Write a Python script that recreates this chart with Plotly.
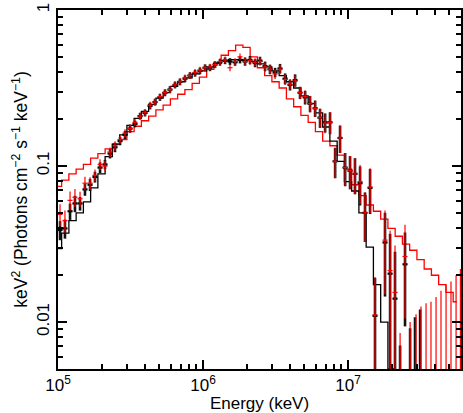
import plotly.graph_objects as go

# ---------------- data (log10 energy in keV, log10 of keV^2 flux) ----------------
data_logE = [5.014, 5.048, 5.083, 5.117, 5.152, 5.186, 5.221, 5.255, 5.290, 5.324,
             5.359, 5.393, 5.428, 5.462, 5.497, 5.531, 5.566, 5.600, 5.635, 5.669,
             5.703, 5.738, 5.772, 5.807, 5.841, 5.876, 5.910, 5.945, 5.979, 6.014,
             6.048, 6.083, 6.117, 6.152, 6.186, 6.221, 6.255, 6.290, 6.324, 6.359,
             6.393, 6.428, 6.462, 6.497, 6.531, 6.566, 6.600, 6.635, 6.669, 6.704,
             6.738, 6.773, 6.807, 6.842, 6.876, 6.911, 6.945, 6.980, 7.014, 7.048,
             7.083, 7.117, 7.152, 7.186, 7.255, 7.290, 7.324, 7.393]

black_logF = [-1.41, -1.40, -1.29, -1.24, -1.24, -1.15, -1.12, -1.07, -1.01, -0.99,
              -0.92, -0.88, -0.84, -0.80, -0.76, -0.73, -0.68, -0.66, -0.615, -0.59,
              -0.56, -0.53, -0.51, -0.48, -0.46, -0.44, -0.42, -0.405, -0.39, -0.37,
              -0.37, -0.35, -0.335, -0.325, -0.33, -0.335, -0.32, -0.33, -0.32, -0.34,
              -0.325, -0.36, -0.38, -0.40, -0.375, -0.44, -0.48, -0.45, -0.53, -0.56,
              -0.60, -0.63, -0.69, -0.72, -0.72, -0.97, -0.82, -1.01, -1.03, -1.05,
              -1.11, -1.30, -1.14, -1.96, -1.49, -1.69, -1.85, -1.63]
black_rel = [0.14, 0.14, 0.12, 0.12, 0.10, 0.09, 0.09, 0.08, 0.08, 0.07,
             0.07, 0.07, 0.06, 0.06, 0.06, 0.05, 0.05, 0.05, 0.05, 0.05,
             0.05, 0.05, 0.05, 0.05, 0.05, 0.05, 0.05, 0.05, 0.05, 0.05,
             0.05, 0.05, 0.05, 0.05, 0.05, 0.05, 0.05, 0.06, 0.06, 0.06,
             0.06, 0.07, 0.07, 0.07, 0.07, 0.08, 0.08, 0.09, 0.09, 0.10,
             0.12, 0.12, 0.14, 0.14, 0.16, 0.22, 0.20, 0.24, 0.24, 0.26,
             0.28, 0.35, 0.32, 0.75, 0.55, 0.80, 1.00, 0.60]

red_logF = [-1.31, -1.35, -1.22, -1.20, -1.21, -1.11, -1.11, -1.06, -0.99, -1.00,
            -0.91, -0.87, -0.83, -0.79, -0.76, -0.72, -0.68, -0.655, -0.61, -0.59,
            -0.555, -0.53, -0.51, -0.48, -0.46, -0.435, -0.42, -0.40, -0.385, -0.37,
            -0.365, -0.35, -0.33, -0.32, -0.37, -0.33, -0.30, -0.33, -0.325, -0.335,
            -0.33, -0.365, -0.38, -0.41, -0.38, -0.445, -0.475, -0.455, -0.53, -0.555,
            -0.60, -0.63, -0.69, -0.725, -0.72, -0.97, -0.82, -1.01, -1.03, -1.05,
            -1.10, -1.30, -1.135, -1.955, -1.475, -1.67, -1.81, -1.58]
red_rel = [0.16, 0.16, 0.14, 0.13, 0.11, 0.10, 0.09, 0.09, 0.08, 0.08,
           0.07, 0.07, 0.06, 0.06, 0.06, 0.05, 0.05, 0.05, 0.05, 0.05,
           0.05, 0.05, 0.05, 0.05, 0.05, 0.05, 0.05, 0.05, 0.05, 0.05,
           0.05, 0.05, 0.05, 0.05, 0.05, 0.05, 0.05, 0.06, 0.06, 0.06,
           0.06, 0.07, 0.07, 0.07, 0.07, 0.08, 0.08, 0.09, 0.09, 0.10,
           0.12, 0.12, 0.14, 0.14, 0.16, 0.22, 0.20, 0.24, 0.24, 0.26,
           0.28, 0.35, 0.32, 0.75, 0.55, 0.80, 1.00, 0.60]

# high-energy bins with no detection: only an upper error bar is visible
black_ul_logE = [7.359, 7.428, 7.462, 7.497]
black_ul_top = [-2.15, -2.04, -1.97, -1.92]
red_ul_logE = [7.359, 7.428, 7.469, 7.503, 7.538, 7.572, 7.607, 7.641, 7.676, 7.710, 7.745, 7.775]
red_ul_top = [-2.07, -2.00, -1.95, -1.90, -1.88, -1.87, -1.84, -1.80, -1.76, -1.74, -1.70, -1.66]

# folded models
model_logE = [5.00, 5.05, 5.10, 5.15, 5.20, 5.25, 5.30, 5.35, 5.40, 5.45,
              5.50, 5.55, 5.60, 5.65, 5.70, 5.75, 5.80, 5.85, 5.90, 5.95,
              6.00, 6.05, 6.10, 6.15, 6.20, 6.25, 6.30, 6.35, 6.40, 6.45,
              6.50, 6.55, 6.60, 6.65, 6.70, 6.75, 6.80, 6.85, 6.90, 6.95,
              7.00, 7.05, 7.10, 7.15, 7.20, 7.25, 7.30, 7.35, 7.40, 7.45,
              7.50, 7.55, 7.60, 7.65, 7.70, 7.75]
black_model = [-1.53, -1.43, -1.35, -1.30, -1.23, -1.14, -1.05, -0.94, -0.86, -0.80,
               -0.74, -0.695, -0.65, -0.605, -0.565, -0.53, -0.49, -0.46, -0.435, -0.41,
               -0.39, -0.365, -0.34, -0.325, -0.318, -0.318, -0.322, -0.33, -0.345, -0.365,
               -0.39, -0.42, -0.46, -0.50, -0.55, -0.60, -0.66, -0.75, -0.84, -0.97,
               -1.10, -1.16, -1.30, -1.52, -1.76, -2.00, -2.30, -2.70]
red_model = [-1.13, -1.09, -1.05, -1.02, -0.99, -0.95, -0.92, -0.89, -0.86, -0.83,
             -0.78, -0.745, -0.71, -0.68, -0.64, -0.61, -0.57, -0.54, -0.51, -0.47,
             -0.43, -0.38, -0.34, -0.29, -0.26, -0.225, -0.24, -0.30, -0.37, -0.42,
             -0.46, -0.50, -0.57, -0.62, -0.675, -0.72, -0.78, -0.84, -0.87, -0.93,
             -1.02, -1.12, -1.19, -1.25, -1.29, -1.34, -1.40, -1.45, -1.50, -1.54,
             -1.60, -1.66, -1.70, -1.76, -1.81, -1.87]

HALF_BIN = 0.0175
FLOOR = 1e-4


def crosses(logE, logF, rel):
    vx, vy, hx, hy = [], [], [], []
    for le, lf, r in zip(logE, logF, rel):
        e, f = 10 ** le, 10 ** lf
        vx += [e, e, None]
        vy += [max(f * (1 - r), FLOOR), f * (1 + r), None]
        hx += [10 ** (le - HALF_BIN), 10 ** (le + HALF_BIN), None]
        hy += [f, f, None]
    return vx, vy, hx, hy


def upper_bars(logE, top):
    x, y = [], []
    for le, t in zip(logE, top):
        x += [10 ** le, 10 ** le, None]
        y += [FLOOR, 10 ** t, None]
    return x, y


fig = go.Figure()

# models
fig.add_trace(go.Scatter(x=[10 ** v for v in model_logE], y=[10 ** v for v in red_model],
                         mode="lines", line=dict(color="#ff0000", width=1.3, shape="hvh"),
                         hoverinfo="skip"))
fig.add_trace(go.Scatter(x=[10 ** v for v in model_logE[:len(black_model)]],
                         y=[10 ** v for v in black_model],
                         mode="lines", line=dict(color="black", width=1.3, shape="hvh"),
                         hoverinfo="skip"))

# black data
vx, vy, hx, hy = crosses(data_logE, black_logF, black_rel)
ux, uy = upper_bars(black_ul_logE, black_ul_top)
fig.add_trace(go.Scatter(x=vx + ux, y=vy + uy, mode="lines",
                         line=dict(color="#111111", width=2.6), hoverinfo="skip"))
fig.add_trace(go.Scatter(x=hx, y=hy, mode="lines",
                         line=dict(color="black", width=2.2), hoverinfo="skip"))

# red data
vx, vy, hx, hy = crosses(data_logE, red_logF, red_rel)
ux, uy = upper_bars(red_ul_logE, red_ul_top)
fig.add_trace(go.Scatter(x=vx + ux, y=vy + uy, mode="lines",
                         line=dict(color="#ff0000", width=1.2), hoverinfo="skip"))
fig.add_trace(go.Scatter(x=hx, y=hy, mode="lines",
                         line=dict(color="#ff0000", width=1.2), hoverinfo="skip"))

x_major = [1e5, 1e6, 1e7]
x_labels = ["10<sup>5</sup>", "10<sup>6</sup>", "10<sup>7</sup>"]
x_minor = [m * d for d in (1e5, 1e6, 1e7) for m in range(2, 10)]
y_major = [0.01, 0.1, 1]
y_labels = ["0.01", "0.1", "1"]
y_minor = [m * d for d in (0.001, 0.01, 0.1) for m in range(2, 10)]

fig.update_layout(
    width=463, height=413,
    margin=dict(l=58, r=2, t=10, b=44),
    plot_bgcolor="white", paper_bgcolor="white",
    showlegend=False,
    font=dict(family="Liberation Sans, Arial, sans-serif", color="black", size=16),
)
fig.update_xaxes(
    type="log", range=[5, 7.779], automargin=False,
    tickvals=x_major, ticktext=x_labels, tickfont=dict(size=17),
    ticks="inside", ticklen=9, tickwidth=2, tickcolor="black",
    minor=dict(tickvals=x_minor, ticks="inside", ticklen=5, tickwidth=1.5, tickcolor="black"),
    showline=True, linewidth=2, linecolor="black", mirror="ticks",
    showgrid=False, zeroline=False,
    title=dict(text="Energy (keV)", font=dict(size=17), standoff=2),
)
fig.update_yaxes(
    type="log", range=[-2.301, 0], automargin=False,
    tickvals=y_major, ticktext=y_labels, tickangle=-90, tickfont=dict(size=17),
    ticks="inside", ticklen=9, tickwidth=2, tickcolor="black",
    minor=dict(tickvals=y_minor, ticks="inside", ticklen=5, tickwidth=1.5, tickcolor="black"),
    showline=True, linewidth=2, linecolor="black", mirror="ticks",
    showgrid=False, zeroline=False,
    title=dict(text="keV<sup>2</sup> (Photons cm<sup>\u22122</sup> s<sup>\u22121</sup> keV<sup>\u22121</sup>)",
               font=dict(size=17.5), standoff=2),
)

page_fix = ("document.body.style.margin='0';"
            "document.body.style.padding='0';"
            "document.body.style.overflow='hidden';"
            "document.documentElement.style.overflow='hidden';")

fig.write_html("out.html", config={"responsive": False, "displayModeBar": False},
               post_script=page_fix)
